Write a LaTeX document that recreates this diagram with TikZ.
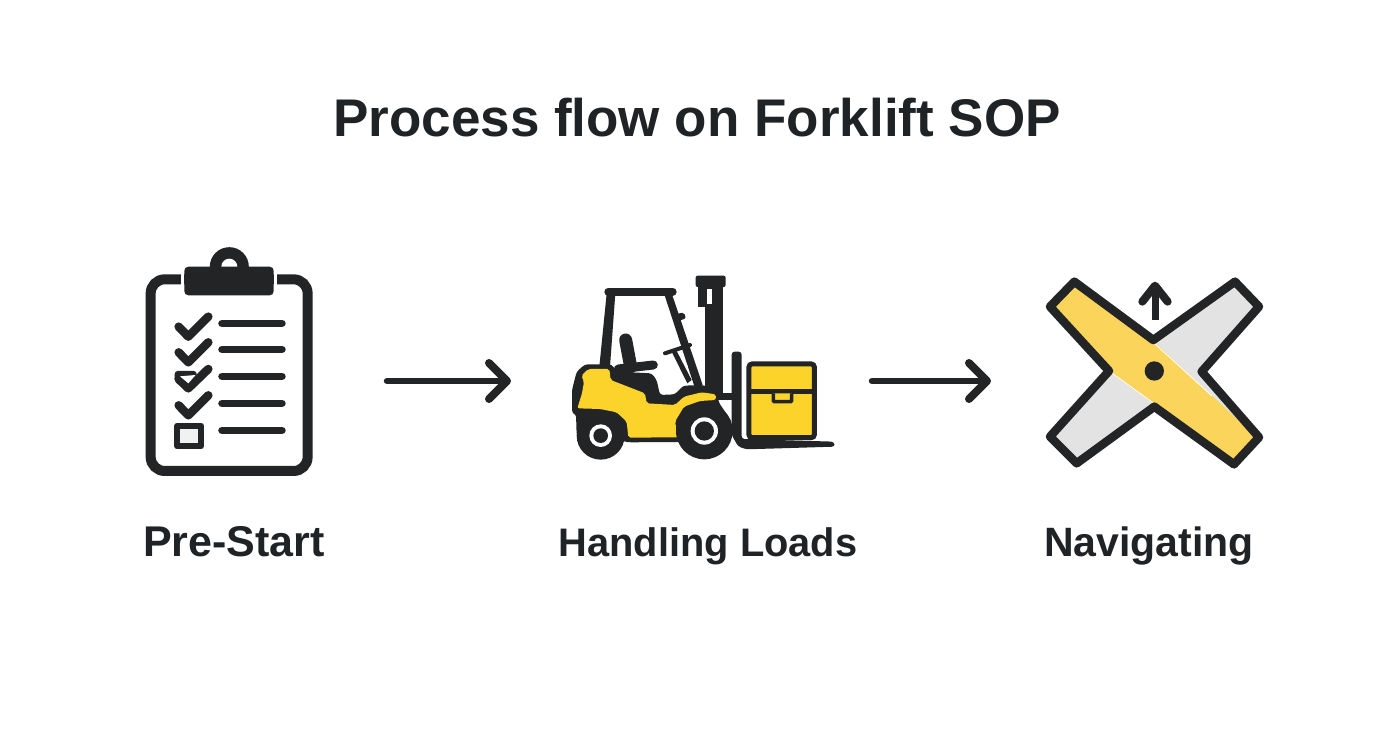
\documentclass[tikz,border=0pt]{standalone}
\usepackage{fontspec}
\setmainfont{Liberation Sans}
\usetikzlibrary{arrows.meta}
\definecolor{ink}{HTML}{222426}
\definecolor{txt}{HTML}{1F2326}
\definecolor{fy}{HTML}{FBD32B}
\definecolor{ny}{HTML}{FBD45C}
\definecolor{ng}{HTML}{E3E3E3}
\tikzset{
  titletext/.style={font=\fontsize{53}{58}\selectfont\bfseries,text=txt,inner sep=0pt,anchor=base},
  labeltext/.style={font=\fontsize{#1}{44}\selectfont\bfseries,text=txt,inner sep=0pt,anchor=base},
  flow/.style={draw=ink,line width=6.5pt,line cap=round,line join=round,-{Straight Barb[length=18pt,width=36pt,round,line width=8pt]}},
  inkline/.style={draw=ink,line cap=round,line join=round},
  zoomA/.style={shift={(130pt,-235pt)},x=0.3333pt,y=-0.3333pt},
  zoomB/.style={shift={(560pt,-265pt)},x=0.3333pt,y=-0.3333pt},
  zoomC/.style={shift={(1035pt,-265pt)},x=0.3333pt,y=-0.3333pt},
}
\begin{document}
\begin{tikzpicture}[x=1pt,y=-1pt]
\useasboundingbox[fill=white] (0,0) rectangle (1392,752);
\node[titletext] (title) at (697,136) {Process flow on Forklift SOP};
\node[labeltext=43] (l1) at (234,556) {Pre-Start};
\node[labeltext=39.8] (l2) at (708,556) {Handling Loads};
\node[labeltext=41] (l3) at (1149,556) {Navigating};
\coordinate (a1s) at (387,381);
\coordinate (a1e) at (511,381);
\coordinate (a2s) at (872,381);
\coordinate (a2e) at (991,381);
\draw[flow] (a1s) -- (a1e);
\draw[flow] (a2s) -- (a2e);
% clipboard
\begin{scope}[zoomA]
\draw[draw=ink,line width=10pt,rounded corners=14pt] (62,133) rectangle (533,708);
\fill[white] (153,115) rectangle (163,150);
\fill[white] (431,115) rectangle (441,150);
\fill[ink] (298,95) circle[radius=58.5];
\fill[white] (298,95) circle[radius=24];
\fill[ink,rounded corners=4pt] (163,95) rectangle (431,181);
\foreach \y in {265,343,424,505,586}{\draw[inkline,line width=7.5pt] (276,\y) -- (456,\y);}
\foreach \y in {0,77,236}{\draw[inkline,line width=8.5pt] (146,{275+\y}) -- (175,{305+\y}) -- (235,{245+\y});}
\fill[ink,rounded corners=3pt] (134,408) -- (200,408) -- (200,440) -- (175,470) -- (134,440) -- cycle;
\draw[inkline,line width=8.5pt] (146,432) -- (175,460) -- (235,402);
\fill[white] (150,424) -- (197,420) -- (175,445) -- cycle;
\fill[ng!50!white] (142,572) rectangle (213,634);
\draw[inkline,line width=6pt] (142,572) rectangle (213,634);
\end{scope}
% forklift
\begin{scope}[zoomB]
% mast
\fill[ink,rounded corners=2pt] (407,32) rectangle (497,66);
\fill[ink] (413,66) rectangle (490,125);
\fill[ink] (435,120) rectangle (490,400);
\fill[white] (442,72) rectangle (456,118);
% cab
\draw[inkline,line width=8pt] (145,80) -- (338,80);
\fill[ink] (140,85) -- (166,85) -- (150,305) -- (118,305) -- cycle;
\fill[ink] (312,85) -- (335,85) -- (428,360) -- (405,370) -- cycle;
\fill[ink,rounded corners=2pt] (345,148) -- (372,142) -- (378,160) -- (355,168) -- cycle;
% steering
\draw[inkline,line width=4pt] (315,265) -- (390,240);
\fill[ink] (336,262) -- (350,258) -- (395,345) -- (382,355) -- cycle;
\fill[white] (362,272) -- (367,270) -- (384,305) -- (380,308) -- cycle;
% seat
\draw[inkline,line width=13pt] (197,225) -- (212,305);
\draw[inkline,line width=9pt] (175,312) -- (280,300);
% body dark mass
\fill[ink,rounded corners=3pt] (36,445) -- (36,375) -- (50,320) -- (75,298) -- (155,298) -- (170,320) -- (275,325) -- (290,345) -- (300,390) -- (345,388) -- (370,362) -- (430,360) -- (475,380) -- (475,410) -- (515,470) -- (510,530) -- (205,532) -- (122,512) -- (50,512) -- (48,447) -- cycle;
\fill[fy,rounded corners=2pt] (52,430) -- (66,385) -- (72,350) -- (64,332) -- (85,312) -- (148,312) -- (152,345) -- (255,385) -- (260,415) -- (345,420) -- (372,395) -- (425,382) -- (468,388) -- (468,405) -- (420,408) -- (372,425) -- (345,470) -- (355,517) -- (205,518) -- (200,470) -- (170,442) -- (120,432) -- cycle;
% wheels
\fill[ink] (122,512) circle[radius=72];
\fill[white] (122,512) circle[radius=34];
\fill[ink] (122,512) circle[radius=22];
\fill[ink] (433,498) circle[radius=85];
\fill[white] (433,498) circle[radius=41];
\fill[ink] (433,498) circle[radius=29];
% carriage and fork
\fill[ink] (470,385) rectangle (520,405);
\fill[ink,rounded corners=3pt] (515,260) -- (545,260) -- (545,522) -- (822,530) -- (825,545) -- (560,553) -- (535,545) -- (515,510) -- cycle;
% crate
\draw[draw=ink,fill=fy,line width=5pt,rounded corners=3pt] (567,297) rectangle (763,518);
\draw[ink,line width=5pt] (567,380) -- (763,380);
\draw[draw=ink,fill=fy,line width=3.5pt,rounded corners=1pt] (640,385) -- (640,410) -- (695,410) -- (695,385);
\end{scope}
% navigation cross
\begin{scope}[zoomC]
\path[fill=ng] (118,50) -- (45,125) -- (222,318) -- (45,515) -- (125,595) -- (358,425) -- (597,598) -- (672,517) -- (500,320) -- (672,125) -- (600,50) -- (355,225) -- cycle;
\path[fill=ny] (118,55) -- (50,125) -- (222,318) -- (597,590) -- (665,517) -- (355,228) -- cycle;
\draw[white,line width=0.9pt] (358,235) -- (530,392);
\draw[white,line width=0.7pt] (232,325) -- (358,416);
\draw[inkline,line width=8.5pt] (118,50) -- (45,125) -- (222,318) -- (45,515) -- (125,595) -- (358,425) -- (597,598) -- (672,517) -- (500,320) -- (672,125) -- (600,50) -- (355,225) -- cycle;
\fill[ink] (358,318) circle[radius=29];
\draw[inkline,line width=7pt,line cap=butt] (360,165) -- (360,70);
\draw[inkline,line width=8pt] (322,110) -- (360,62) -- (398,110);
\end{scope}
\end{tikzpicture}
\end{document}
